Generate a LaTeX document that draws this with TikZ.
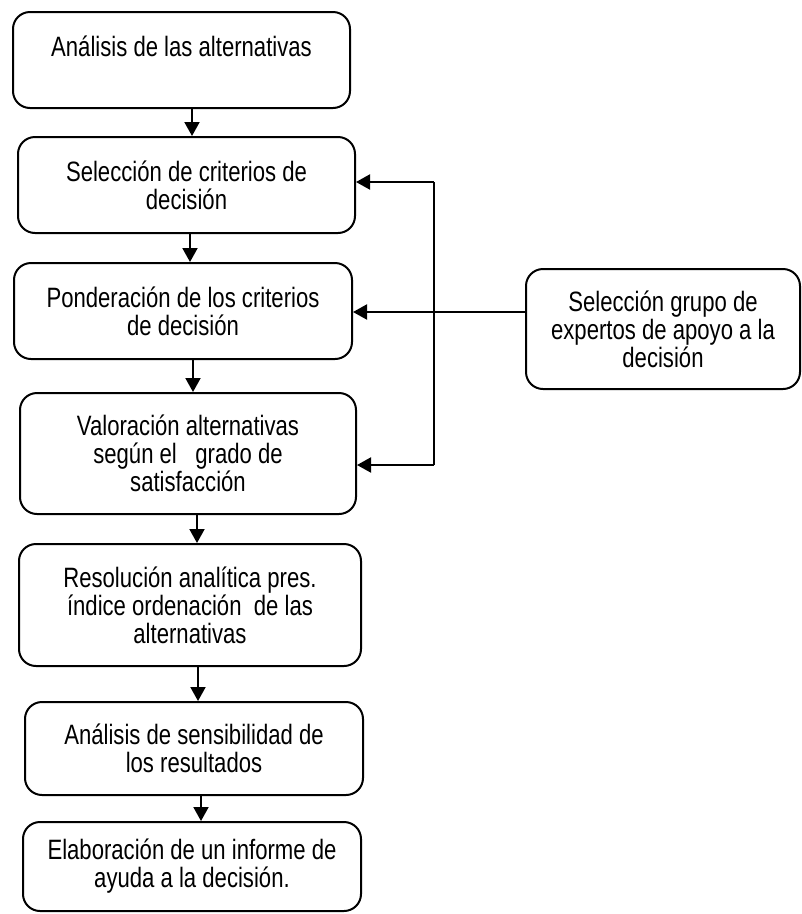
\documentclass[tikz,border=0pt]{standalone}
\usepackage{fontspec}
\setmainfont{Liberation Sans}[FakeStretch=0.79]
\usetikzlibrary{arrows.meta}
\begin{document}
\begin{tikzpicture}[x=1pt,y=-1pt,
  box/.style={draw, line width=2pt, rounded corners=17pt, align=center,
    inner sep=0pt, font=\fontsize{28}{28}\selectfont},
  arr/.style={line width=2pt, -{Triangle[length=14pt,width=15pt]}},
  link/.style={line width=2pt}]
\useasboundingbox (0,0) rectangle (802,914);

% main sequence of steps
\node[box, minimum width=337pt, minimum height=96pt]  (b1) at (181.5,60)  {Análisis de las alternativas\\\mbox{}};
\node[box, minimum width=337pt, minimum height=96pt]  (b2) at (186.5,185) {Selección de criterios de\\decisión};
\node[box, minimum width=338pt, minimum height=96pt]  (b3) at (183,311)   {Ponderación de los criterios\\de decisión};
\node[box, minimum width=336pt, minimum height=121pt] (b4) at (188,453.5) {Valoración alternativas\\según el\ \ \ grado de\\satisfacción};
\node[box, minimum width=342pt, minimum height=122pt] (b5) at (190,605)   {Resolución analítica pres.\\índice ordenación\ \ de las\\alternativas};
\node[box, minimum width=338pt, minimum height=93pt]  (b6) at (194,748.5) {Análisis de sensibilidad de\\los resultados};
\node[box, minimum width=338pt, minimum height=89pt]  (b7) at (192,866.5) {Elaboración de un informe de\\ayuda a la decisión.};

% expert group feeding three of the steps
\node[box, minimum width=274pt, minimum height=120pt] (rb) at (663,329) {Selección grupo de\\expertos de apoyo a la\\decisión};

% flow between consecutive steps
\draw[arr] ([xshift=10.5pt]b1.south) -- ([xshift=10.5pt]b1.south |- b2.north);
\draw[arr] ([xshift=3.5pt]b2.south)  -- ([xshift=3.5pt]b2.south |- b3.north);
\draw[arr] ([xshift=10pt]b3.south)   -- ([xshift=10pt]b3.south |- b4.north);
\draw[arr] ([xshift=9pt]b4.south)    -- ([xshift=9pt]b4.south |- b5.north);
\draw[arr] ([xshift=8pt]b5.south)    -- ([xshift=8pt]b5.south |- b6.north);
\draw[arr] ([xshift=7pt]b6.south)    -- ([xshift=7pt]b6.south |- b7.north);

% feedback bracket
\coordinate (ftop) at (434,182);
\coordinate (fbot) at (434,465);
\draw[link] (ftop) -- (fbot);
\draw[arr] (ftop) -- (ftop -| b2.east);
\draw[arr] (fbot) -- (fbot -| b4.east);
\draw[arr] ([yshift=17pt]rb.west) -- ([yshift=17pt]rb.west -| b3.east);
\end{tikzpicture}
\end{document}
